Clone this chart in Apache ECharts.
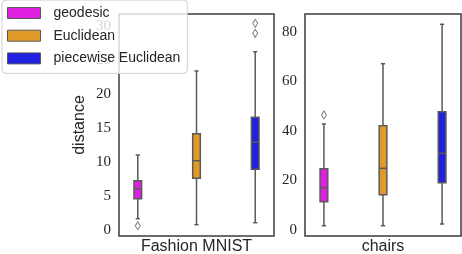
<!DOCTYPE html>
<html><head><meta charset="utf-8">
<script src="https://cdn.jsdelivr.net/npm/echarts@6/dist/echarts.min.js"></script>
<style>html,body{margin:0;padding:0;background:#fff}#c{width:462px;height:254px}</style>
</head><body><div id="c"></div>
<script>
const methods = ['geodesic', 'Euclidean', 'piecewise Euclidean'];
const datasets = ['Fashion MNIST', 'chairs'];
// box stats per method: [lower whisker, Q1, median, Q3, upper whisker]
const fashionStats = [[1.74, 4.68, 6.15, 7.32, 11.09], [0.86, 7.67, 10.26, 14.22, 23.43], [1.15, 9.0, 12.96, 16.63, 26.26]];
const fashionOutliers = [[0.71], [], [28.97, 30.43]];
const chairsStats = [[1.75, 11.43, 17.07, 24.73, 42.75], [1.75, 14.25, 24.89, 42.07, 67.06], [2.44, 19.09, 30.94, 47.71, 82.95]];
const chairsOutliers = [[46.4], [], []];
const fashionTicks = [0, 5, 10, 15, 20, 25, 30];
const chairsTicks = [0, 20, 40, 60, 80];

const colors = ['#e020e0', '#e09a28', '#2121e0'];
const LINE = '#5a5a5a';
const TEXT = '#262626';
const BOX_HALF = 0.065;

function renderBox(params, api) {
  const x = api.value(0);
  const lo = api.coord([x, api.value(1)]);
  const q1 = api.coord([x, api.value(2)]);
  const md = api.coord([x, api.value(3)]);
  const q3 = api.coord([x, api.value(4)]);
  const hi = api.coord([x, api.value(5)]);
  const hw = api.size([BOX_HALF, 0])[0];
  const cx = lo[0];
  const cap = hw * 0.55;
  const ls = { stroke: LINE, lineWidth: 1.5 };
  return { type: 'group', children: [
    { type: 'line', shape: { x1: cx, y1: lo[1], x2: cx, y2: q1[1] }, style: ls },
    { type: 'line', shape: { x1: cx, y1: q3[1], x2: cx, y2: hi[1] }, style: ls },
    { type: 'line', shape: { x1: cx - cap, y1: lo[1], x2: cx + cap, y2: lo[1] }, style: ls },
    { type: 'line', shape: { x1: cx - cap, y1: hi[1], x2: cx + cap, y2: hi[1] }, style: ls },
    { type: 'rect', shape: { x: cx - hw, y: q3[1], width: 2 * hw, height: q1[1] - q3[1] },
      style: { fill: api.visual('color'), stroke: LINE, lineWidth: 1.5 } },
    { type: 'line', shape: { x1: cx - hw, y1: md[1], x2: cx + hw, y2: md[1] }, style: ls }
  ]};
}

const panels = [
  { stats: fashionStats, outliers: fashionOutliers, ticks: fashionTicks, min: -0.8, max: 31.8 },
  { stats: chairsStats, outliers: chairsOutliers, ticks: chairsTicks, min: -2.4, max: 87.1 }
];

const series = [];
panels.forEach((p, g) => {
  methods.forEach((m, i) => {
    series.push({
      type: 'custom', name: m, xAxisIndex: g, yAxisIndex: g,
      itemStyle: { color: colors[i] },
      renderItem: renderBox,
      encode: { x: 0, y: [1, 2, 3, 4, 5] },
      data: [[i - 1].concat(p.stats[i])],
      silent: true
    });
    if (p.outliers[i].length) {
      series.push({
        type: 'scatter', name: m + ' outliers', xAxisIndex: g, yAxisIndex: g,
        symbol: 'diamond', symbolSize: [5, 8],
        itemStyle: { color: 'rgba(0,0,0,0)', borderColor: LINE, borderWidth: 1 },
        data: p.outliers[i].map(v => [i - 1, v]),
        silent: true, z: 3
      });
    }
  });
});

const chart = echarts.init(document.getElementById('c'), null, { renderer: 'canvas' });
chart.setOption({
  animation: false,
  backgroundColor: '#fff',
  grid: [
    { left: 119, top: 14, width: 155, height: 222, show: true, borderColor: '#3d3d3d', borderWidth: 1.5, backgroundColor: 'transparent', containLabel: false, outerBoundsMode: 'none' },
    { left: 305, top: 14, width: 156, height: 222, show: true, borderColor: '#3d3d3d', borderWidth: 1.5, backgroundColor: 'transparent', containLabel: false, outerBoundsMode: 'none' }
  ],
  xAxis: datasets.map((d, g) => ({
    gridIndex: g, type: 'value', min: -1.32, max: 1.32,
    name: d, nameLocation: 'middle', nameGap: 3,
    nameTextStyle: { fontFamily: 'Liberation Sans', fontSize: 16, color: TEXT },
    axisLine: { show: false }, axisTick: { show: false }, axisLabel: { show: false }, splitLine: { show: false }
  })),
  yAxis: panels.map((p, g) => ({
    gridIndex: g, type: 'value', min: p.min, max: p.max,
    name: g === 0 ? 'distance' : '', nameLocation: 'middle', nameGap: 31,
    nameTextStyle: { fontFamily: 'Liberation Sans', fontSize: 16, color: TEXT },
    axisLine: { show: false }, axisTick: { show: false }, splitLine: { show: false },
    axisLabel: { customValues: p.ticks, fontFamily: 'Liberation Serif', fontSize: 15, color: TEXT, margin: 8 }
  })),
  legend: {
    data: methods, orient: 'vertical', left: 2, top: 0,
    padding: [6, 7, 8, 5], itemWidth: 33, itemHeight: 11, itemGap: 8.7, icon: 'rect',
    backgroundColor: 'rgba(255,255,255,0.8)', borderColor: '#d0d0d0', borderWidth: 1, borderRadius: 4,
    selectedMode: false,
    textStyle: { fontFamily: 'Liberation Sans', fontSize: 14, color: TEXT, padding: [0, 0, 0, 8] },
    itemStyle: { borderColor: LINE, borderWidth: 1 },
    z: 10
  },
  series: series
});
</script></body></html>
